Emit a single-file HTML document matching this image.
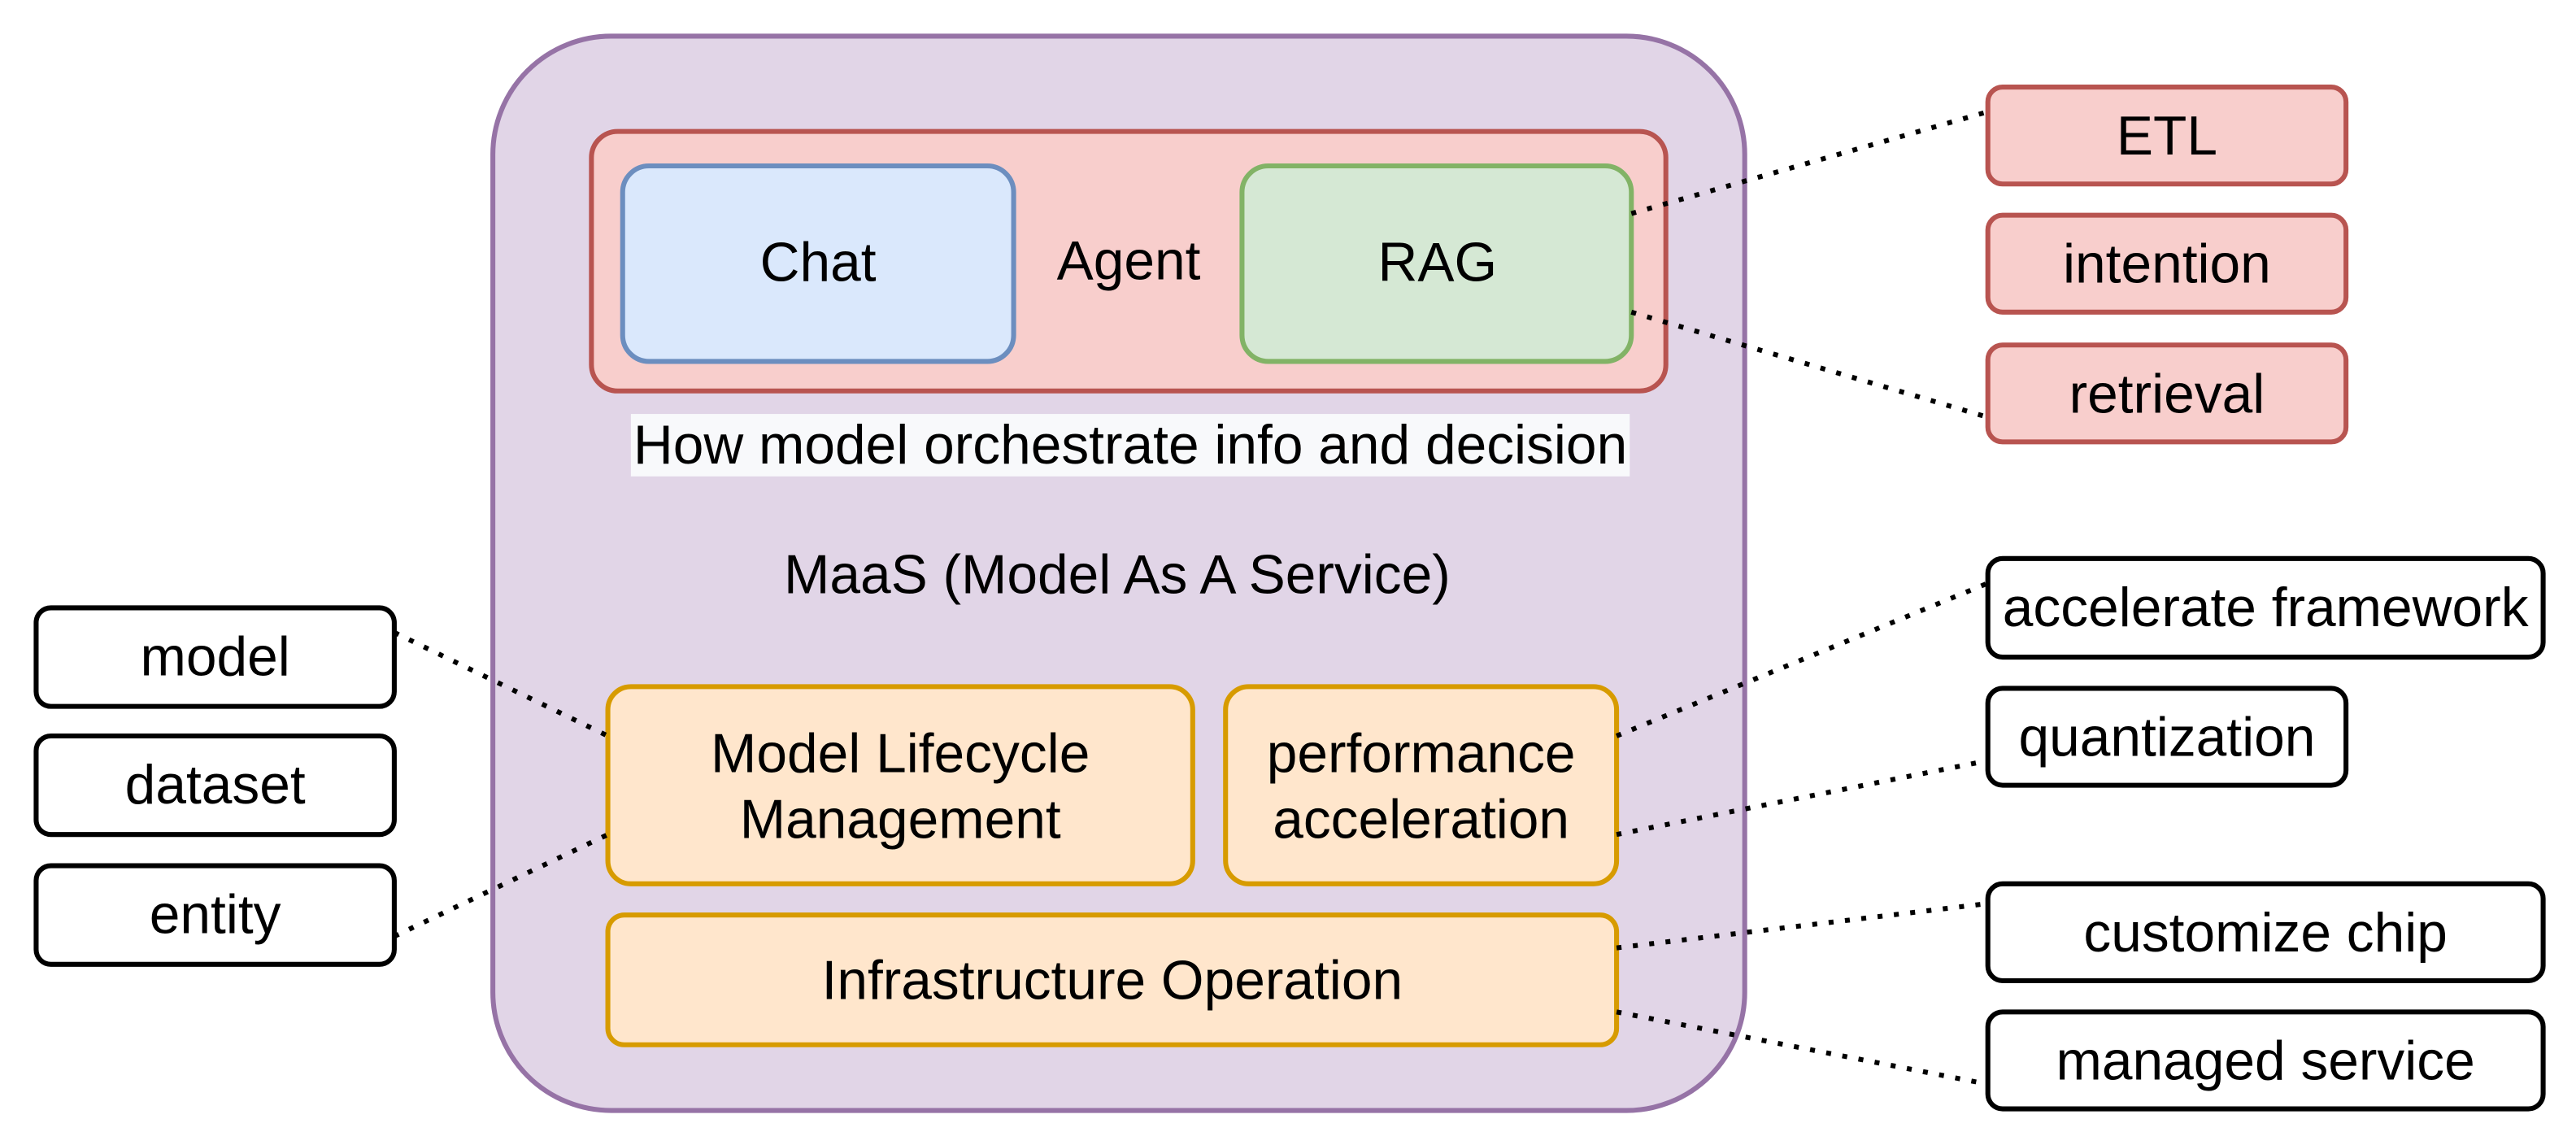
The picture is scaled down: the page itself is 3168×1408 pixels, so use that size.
<!DOCTYPE html>
<html><head><meta charset="utf-8"><style>
html,body{margin:0;padding:0;background:#fff;}
svg{display:block;}
text{font-family:"Liberation Sans",Helvetica,Arial,sans-serif;font-size:33.5px;fill:#000;text-anchor:middle;dominant-baseline:central;}
</style></head><body>
<svg width="3168" height="1408" viewBox="0 0 1568 697" preserveAspectRatio="none" xmlns="http://www.w3.org/2000/svg">
<rect x="300" y="22" width="762" height="654" rx="72" fill="#e1d5e7" stroke="#9673a6" stroke-width="3"/>
<rect x="360" y="80" width="654" height="158" rx="16" fill="#f8cecc" stroke="#b85450" stroke-width="3"/>
<rect x="379" y="101" width="238" height="119" rx="16" fill="#dae8fc" stroke="#6c8ebf" stroke-width="3"/>
<text x="498" y="160">Chat</text>
<text x="687" y="159">Agent</text>
<rect x="756" y="101" width="237" height="119" rx="16" fill="#d5e8d4" stroke="#82b366" stroke-width="3"/>
<text x="875" y="160">RAG</text>
<rect x="384" y="252" width="608" height="38" fill="#f8f9fb"/>
<text x="688" y="271">How model orchestrate info and decision</text>
<text x="680" y="350">MaaS (Model As A Service)</text>
<rect x="370" y="418" width="356" height="120" rx="14" fill="#ffe6cc" stroke="#d79b00" stroke-width="3"/>
<text x="548" y="459">Model Lifecycle</text>
<text x="548" y="499">Management</text>
<rect x="746" y="418" width="238" height="120" rx="14" fill="#ffe6cc" stroke="#d79b00" stroke-width="3"/>
<text x="865" y="459">performance</text>
<text x="865" y="499">acceleration</text>
<rect x="370" y="557" width="614" height="79" rx="10" fill="#ffe6cc" stroke="#d79b00" stroke-width="3"/>
<text x="677" y="597">Infrastructure Operation</text>
<g fill="#fff" stroke="#000" stroke-width="3">
<rect x="22" y="370" width="218" height="60" rx="9"/>
<rect x="22" y="448" width="218" height="60" rx="9"/>
<rect x="22" y="527" width="218" height="60" rx="9"/>
<rect x="1210" y="340" width="338" height="60" rx="9"/>
<rect x="1210" y="419" width="218" height="59" rx="9"/>
<rect x="1210" y="538" width="338" height="59" rx="9"/>
<rect x="1210" y="616" width="338" height="59" rx="9"/>
</g>
<g fill="#f8cecc" stroke="#b85450" stroke-width="3">
<rect x="1210" y="53" width="218" height="59" rx="9"/>
<rect x="1210" y="131" width="218" height="59" rx="9"/>
<rect x="1210" y="210" width="218" height="59" rx="9"/>
</g>
<text x="131" y="400">model</text>
<text x="131" y="478">dataset</text>
<text x="131" y="557">entity</text>
<text x="1319" y="83">ETL</text>
<text x="1319" y="161">intention</text>
<text x="1319" y="240">retrieval</text>
<text x="1379" y="370">accelerate framework</text>
<text x="1319" y="449">quantization</text>
<text x="1379" y="568">customize chip</text>
<text x="1379" y="646">managed service</text>
<g stroke="#000" stroke-width="3" stroke-dasharray="3 7" fill="none">
<line x1="993" y1="130" x2="1210" y2="68"/>
<line x1="993" y1="190" x2="1210" y2="254"/>
<line x1="240" y1="385" x2="370" y2="448"/>
<line x1="240" y1="570" x2="370" y2="508"/>
<line x1="984" y1="448" x2="1210" y2="355"/>
<line x1="984" y1="508" x2="1210" y2="463"/>
<line x1="984" y1="577" x2="1210" y2="550"/>
<line x1="984" y1="616" x2="1210" y2="660"/>
</g>
</svg>
</body></html>
